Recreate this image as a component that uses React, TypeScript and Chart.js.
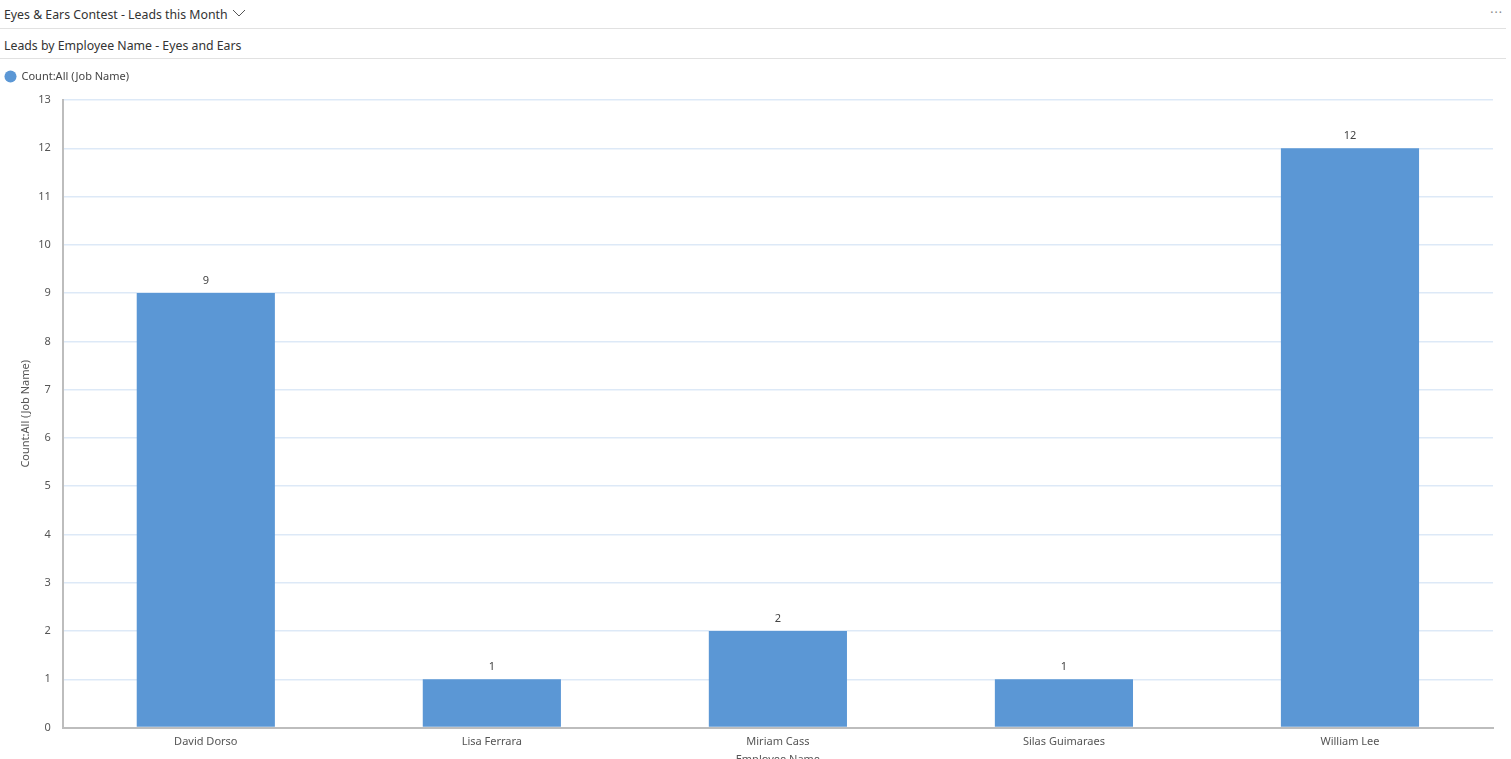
import React, { useEffect, useRef } from "react";
import { Chart, registerables } from "chart.js";

Chart.register(...registerables);

const categories = ["David Dorso", "Lisa Ferrara", "Miriam Cass", "Silas Guimaraes", "William Lee"];
const seriesLabel = "Count:All (Job Name)";
const seriesValues = [9, 1, 2, 1, 12];
const yTicks = [0, 1, 2, 3, 4, 5, 6, 7, 8, 9, 10, 11, 12, 13];

const FONT = "'Segoe UI', 'Noto Sans', 'Open Sans', sans-serif";

const valueLabels = {
  id: "valueLabels",
  afterDatasetsDraw(chart: any) {
    const ctx = chart.ctx;
    ctx.save();
    ctx.font = `11px ${FONT}`;
    ctx.fillStyle = "#444";
    ctx.textAlign = "center";
    ctx.textBaseline = "bottom";
    chart.data.datasets.forEach((ds: any, i: number) => {
      const meta = chart.getDatasetMeta(i);
      meta.data.forEach((el: any, j: number) => {
        ctx.fillText(String(ds.data[j]), el.x, el.y - 7);
      });
    });
    ctx.restore();
  },
};

const legendGap = {
  id: "legendGap",
  beforeInit(chart: any) {
    const legend = chart.legend;
    if (!legend) return;
    const orig = legend.fit;
    legend.fit = function () {
      orig.call(this);
      this.height += 8;
    };
  },
};

export default function App() {
  const ref = useRef<HTMLCanvasElement>(null);
  useEffect(() => {
    document.body.style.margin = "0";
    document.body.style.overflow = "hidden";
    const chart = new Chart(ref.current!, {
      type: "bar",
      data: {
        labels: categories,
        datasets: [
          {
            label: seriesLabel,
            data: seriesValues,
            backgroundColor: "#5b97d5",
            borderWidth: 0,
            barPercentage: 0.483,
            categoryPercentage: 1,
          },
        ],
      },
      options: {
        animation: false,
        responsive: true,
        maintainAspectRatio: false,
        layout: { padding: { left: 0, right: 18, top: 4, bottom: 0 } },
        plugins: {
          legend: {
            position: "top",
            align: "start",
            labels: {
              usePointStyle: true,
              pointStyle: "circle",
              boxHeight: 8.5,
              boxWidth: 11,
              padding: 5,
              color: "#444",
              font: { family: FONT, size: 11 },
            },
          },
          tooltip: { enabled: false },
        },
        scales: {
          x: {
            grid: { display: false },
            border: { color: "#bdbdbd", width: 2 },
            ticks: { color: "#555", font: { family: FONT, size: 11 }, padding: 0 },
            title: {
              display: true,
              text: "Employee Name",
              color: "#555",
              font: { family: FONT, size: 11 },
              padding: { top: 4, bottom: 4 },
            },
          },
          y: {
            min: 0,
            max: 13,
            afterBuildTicks: (axis: any) => {
              axis.ticks = yTicks.map((v) => ({ value: v }));
            },
            grid: { color: "#dde9f7", lineWidth: 1.5, drawTicks: false },
            border: { color: "#bdbdbd", width: 2 },
            ticks: { color: "#555", font: { family: FONT, size: 11 }, padding: 12 },
            title: {
              display: true,
              text: seriesLabel,
              color: "#555",
              font: { family: FONT, size: 11 },
              padding: { top: 19, bottom: -6 },
            },
          },
        },
      },
      plugins: [valueLabels, legendGap],
    });
    return () => chart.destroy();
  }, []);

  return (
    <div style={{ position: "absolute", left: 0, top: 0, width: 1511, height: 759, overflow: "hidden", background: "#fff", fontFamily: FONT, color: "#333" }}>
      <div style={{ position: "absolute", left: 4, top: 5, fontSize: 12.3, lineHeight: "20px", whiteSpace: "nowrap" }}>
        Eyes &amp; Ears Contest - Leads this Month
        <svg width="14" height="10" style={{ marginLeft: 4, verticalAlign: "1px" }}>
          <polyline points="1,2 7,8 13,2" fill="none" stroke="#555" strokeWidth="1" />
        </svg>
      </div>
      <div style={{ position: "absolute", right: 8, top: 4, fontSize: 12, color: "#888", letterSpacing: 1 }}>···</div>
      <div style={{ position: "absolute", left: 0, top: 28, width: 1506, height: 1, background: "#e1e1e1" }} />
      <div style={{ position: "absolute", left: 4, top: 36, fontSize: 12.3, lineHeight: "20px", whiteSpace: "nowrap" }}>
        Leads by Employee Name - Eyes and Ears
      </div>
      <div style={{ position: "absolute", left: 0, top: 58, width: 1506, height: 1, background: "#e1e1e1" }} />
      <div style={{ position: "absolute", left: 0, top: 62, width: 1511, height: 708 }}>
        <canvas ref={ref} />
      </div>
    </div>
  );
}
